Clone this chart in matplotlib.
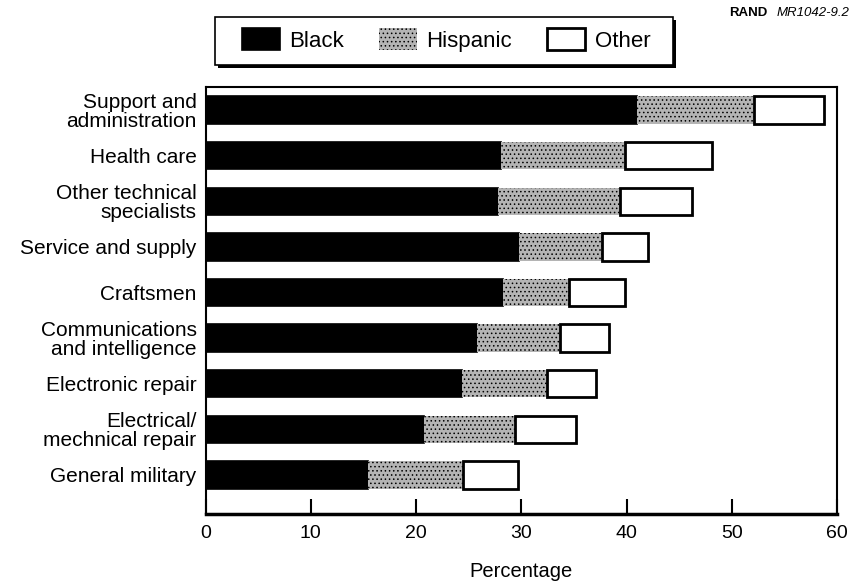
import numpy as np
import matplotlib.pyplot as plt
from matplotlib.patches import Rectangle
from matplotlib.transforms import offset_copy

plt.rcParams['font.family'] = ['Liberation Sans', 'DejaVu Sans']
plt.rcParams['hatch.color'] = '#6e6e6e'
plt.rcParams['hatch.linewidth'] = 0.6

categories = ['Support and\nadministration', 'Health care', 'Other technical\nspecialists',
              'Service and supply', 'Craftsmen', 'Communications\nand intelligence',
              'Electronic repair', 'Electrical/\nmechnical repair', 'General military']
black = [41.0, 28.1, 27.8, 29.8, 28.3, 25.8, 24.4, 20.8, 15.4]
hispanic = [11.1, 11.8, 11.6, 7.9, 6.2, 7.9, 8.0, 8.6, 9.1]
other = [6.7, 8.2, 6.8, 4.3, 5.4, 4.6, 4.7, 5.8, 5.2]

black = np.array(black)
hispanic = np.array(hispanic)
other = np.array(other)
y = np.arange(len(categories))

fig = plt.figure(figsize=(8.55, 5.88), dpi=100)
ax = fig.add_axes([0.2404, 0.1259, 0.7386, 0.7262])

h = 0.6
ax.barh(y, black, height=h, color='black', edgecolor='black', linewidth=1.2, label='Black')
ax.barh(y, hispanic, left=black, height=h, color='#b4b4b4', hatch='....',
        edgecolor='black', linewidth=0, label='Hispanic')
ax.barh(y, other, left=black + hispanic, height=h, color='white', edgecolor='black',
        linewidth=2, label='Other')

ax.set_xlim(0, 60)
ax.set_ylim(8.855, -0.504)
ax.set_xticks(np.arange(0, 61, 10))
ax.set_yticks(y)
ax.set_yticklabels(categories, fontsize=15, ma='right', linespacing=1.0)
ax.tick_params(axis='y', length=0, pad=6.5)
ax.tick_params(axis='x', direction='in', length=11, width=1.5, labelsize=14, pad=8)
ax.set_xlabel('Percentage', fontsize=14.5, labelpad=14)
for s in ax.spines.values():
    s.set_linewidth(1.5)
ax.spines['bottom'].set_linewidth(2.5)

# legend without its own frame; box with drop shadow drawn behind it
handles, labels = ax.get_legend_handles_labels()
fig.legend(handles, labels, loc='center', bbox_to_anchor=(0.5216, 0.932), ncol=3,
           fontsize=16, frameon=False,
           handlelength=1.7, handleheight=1.15, columnspacing=1.55,
           handletextpad=0.45, borderpad=0.55)
box_xy, box_w, box_h = (0.2515, 0.8895), 0.5357, 0.0816
shadow = Rectangle(box_xy, box_w, box_h,
                   transform=offset_copy(fig.transFigure, fig=fig, x=2.2, y=-2.2, units='points'),
                   facecolor='black', edgecolor='black', linewidth=0, zorder=-2)
box = Rectangle(box_xy, box_w, box_h, transform=fig.transFigure,
                facecolor='white', edgecolor='black', linewidth=1.2, zorder=-1)
fig.add_artist(shadow)
fig.add_artist(box)

fig.text(0.898, 0.978, 'RAND', fontsize=9.5, fontweight='bold', ha='right', va='center')
fig.text(0.908, 0.978, 'MR1042-9.2', fontsize=9.5, style='italic', ha='left', va='center')

fig.savefig('out.png', dpi=100)
